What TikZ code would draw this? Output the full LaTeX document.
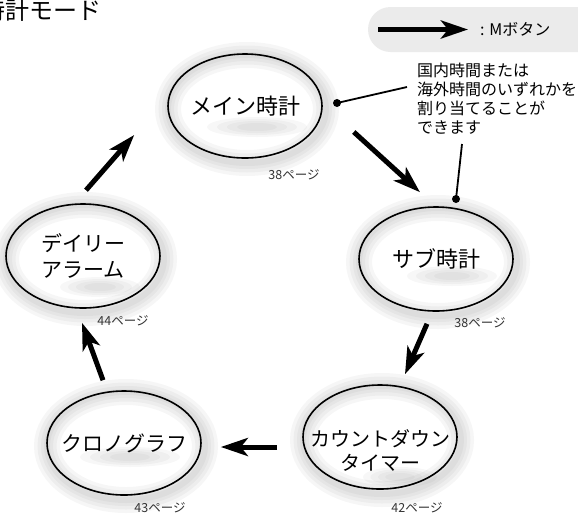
\documentclass[tikz,border=0pt]{standalone}
\usepackage{fontspec}
\setmainfont{Noto Sans CJK JP}
\usetikzlibrary{arrows.meta,shapes.geometric,backgrounds}
\definecolor{pillgray}{HTML}{EBEBEB}
\tikzset{
  mode/.style={ellipse, draw, line width=1.6pt, minimum width=154pt, minimum height=104pt, inner sep=0pt},
  modetext/.style={align=center, inner sep=0pt, font=\fontsize{22}{26}\selectfont},
  marrow/.style={line width=5pt, -{Stealth[length=27pt,width=18pt,inset=7pt]}},
  pagenum/.style={font=\fontsize{12.5}{14}\selectfont, text=black!80, inner sep=0pt},
  dot/.style={circle, fill, inner sep=0pt, minimum size=8pt},
  lead/.style={line width=1.8pt},
}
\begin{document}
\begin{tikzpicture}[x=1pt,y=-1pt]
\useasboundingbox (0,0) rectangle (578,515);
% title
\node[anchor=west, inner sep=0pt, font=\fontsize{24}{28}\selectfont] (title) at (-19,10) {時計モード};
% legend
\fill[pillgray, rounded corners=22.5pt] (368,7) rectangle (640,52);
\coordinate (legtail) at (378,29.5);
\node[anchor=west, inner sep=0pt, font=\fontsize{16}{18}\selectfont] (legtext) at (480,29.5) {: Mボタン};
\draw[marrow] (legtail) -- ([xshift=-12pt]legtext.west);
% modes
\node[mode, label={[modetext]center:メイン時計}] (main) at (245,106) {};
\node[mode, label={[modetext]center:サブ時計}] (sub) at (436,259) {};
\node[mode, label={[modetext, font=\fontsize{21}{26}\selectfont]center:デイリー\\アラーム}] (alarm) at (83,256) {};
\node[mode, label={[modetext, font=\fontsize{21}{24}\selectfont]center:クロノグラフ}] (chrono) at (124,443) {};
\node[mode, label={[modetext, font=\fontsize{20}{24}\selectfont, yshift=-13pt]center:カウントダウン\\タイマー}] (count) at (380,437) {};
% page numbers
\node[pagenum] (pmain) at (294,175) {38ページ};
\node[pagenum] (psub) at (480,323) {38ページ};
\node[pagenum] (palarm) at (123,321) {44ページ};
\node[pagenum] (pchrono) at (160,508) {43ページ};
\node[pagenum] (pcount) at (417,508) {42ページ};
% shadows
\begin{scope}[on background layer]
  \foreach \n/\dx/\dy/\r in {main/12/21/50, sub/16/17/45, alarm/17/31/40, chrono/6/14/50, count/20/40/37} {
    \foreach \w in {26,19,12,6} \draw[black, opacity=0.035, line width=\w pt] ([shift={(2,3)}]\n.center) ellipse (79pt and 54pt);
    \foreach \s in {1,0.8,0.6,0.4} \fill[black, opacity=0.03] ([shift={(\dx,\dy)}]\n.center) ellipse ({\s*\r*1pt} and {\s*10pt});
  }
\end{scope}
% M button arrows
\draw[marrow] ([shift={(31,26)}]main.east) -- ([shift={(-16,-14)}]sub.north);
\draw[marrow] ([shift={(-9,12)}]sub.south) -- ([shift={(25,-10)}]count.north);
\draw[marrow] ([shift={(-25,10)}]count.west) -- ([shift={(19,4)}]chrono.east);
\draw[marrow] ([shift={(-21,-10)}]chrono.north) -- ([shift={(-1,14)}]alarm.south);
\draw[marrow] ([shift={(3,-13)}]alarm.north) -- ([shift={(-33,29)}]main.west);
% note
\node[anchor=west, align=left, inner sep=0pt, font=\fontsize{16}{18.7}\selectfont] (note) at (417,98.7) {国内時間または\\海外時間のいずれかを\\割り当てることが\\できます};
\node[dot] (dot1) at (337,103) {};
\coordinate (lead1) at (407,87);
\draw[lead] (dot1.center) -- (lead1);
\node[dot] (dot2) at (456,199) {};
\coordinate (lead2) at (462,144);
\draw[lead] (dot2.center) -- (lead2);
\end{tikzpicture}
\end{document}
